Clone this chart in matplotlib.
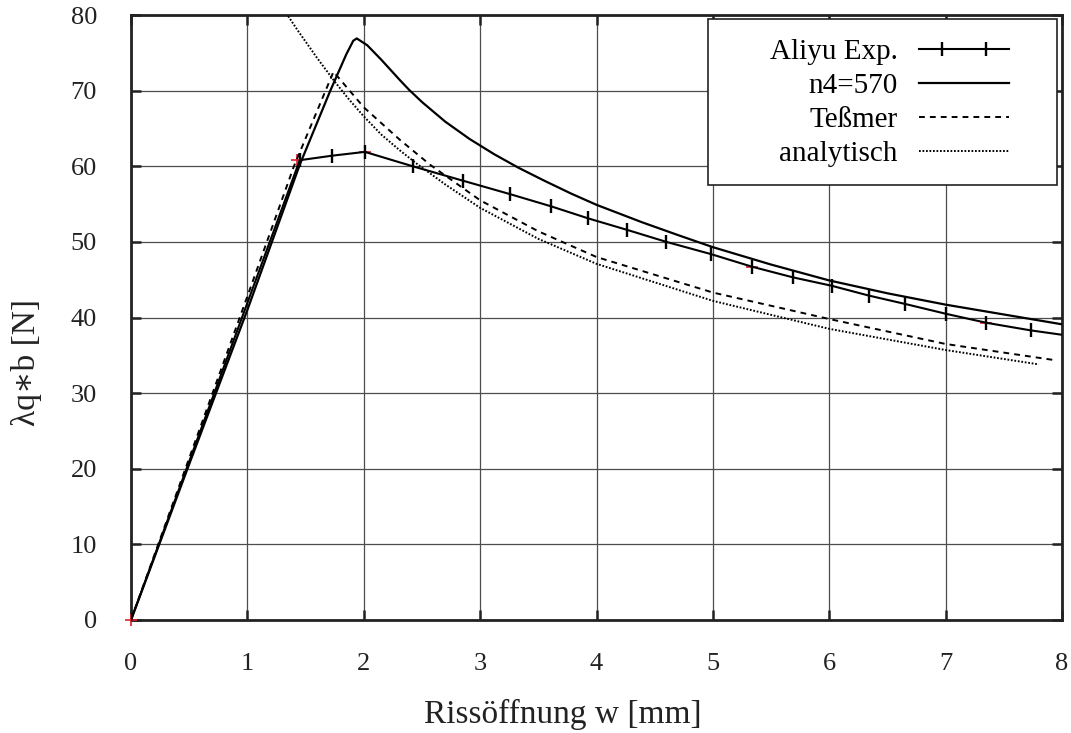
import matplotlib
matplotlib.use("Agg")
import numpy as np
import matplotlib.pyplot as plt
from matplotlib.legend_handler import HandlerLine2DCompound
from matplotlib.patches import Rectangle

plt.rcParams['font.family'] = ['Liberation Serif', 'DejaVu Serif']

# Aliyu Exp. (experiment)
aliyu_w = [0.0, 1.45, 1.73, 2.01, 2.42, 2.85, 3.26, 3.61, 3.93, 4.26, 4.60,
           4.98, 5.34, 5.69, 6.02, 6.34, 6.65, 7.00, 7.35, 7.73, 8.10]
aliyu_f = [0.0, 60.8, 61.4, 61.9, 60.0, 58.1, 56.3, 54.7, 53.1, 51.6, 50.0,
           48.4, 46.7, 45.3, 44.2, 42.9, 41.8, 40.5, 39.3, 38.3, 37.5]
# red highlighted experimental points
red_w = [0.0, 1.43, 2.01, 5.34, 7.35]
red_f = [0.0, 60.8, 61.9, 46.7, 39.3]

# n4=570 (simulation)
n4_w = [0.0, 0.5, 1.0, 1.45, 1.71, 1.85, 1.91, 1.94, 1.97, 2.03, 2.15, 2.31,
        2.39, 2.50, 2.70, 2.91, 3.12, 3.33, 3.55, 3.78, 4.00, 4.39, 4.70,
        5.00, 5.50, 6.00, 6.50, 7.00, 7.50, 8.00]
n4_f = [0.0, 20.6, 41.0, 60.2, 69.9, 74.8, 76.6, 76.9, 76.6, 76.0, 74.1, 71.4,
        70.1, 68.5, 65.9, 63.6, 61.6, 59.8, 58.1, 56.4, 54.9, 52.6, 50.9,
        49.3, 47.0, 44.9, 43.2, 41.7, 40.4, 39.1]

# Teßmer
tess_w = [0.0, 1.0, 1.40, 1.74, 2.00, 2.31, 2.57, 3.00, 3.50, 4.00, 5.00,
          6.00, 7.00, 7.92]
tess_f = [0.0, 42.8, 60.0, 72.5, 67.8, 63.5, 60.2, 55.5, 51.4, 48.0, 43.3,
          39.8, 36.5, 34.4]

# analytisch
ana_w = [1.30, 1.44, 1.60, 1.75, 1.87, 2.00, 2.15, 2.31, 2.45, 2.70, 3.00,
         3.50, 4.00, 5.00, 6.00, 7.00, 7.80]
ana_f = [81.0, 77.8, 74.3, 71.2, 68.9, 66.6, 64.2, 62.1, 60.4, 57.6, 54.5,
         50.4, 47.1, 42.2, 38.5, 35.7, 33.8]

xticks = list(range(0, 9))
yticks = list(range(0, 81, 10))


class FullLineHandler(HandlerLine2DCompound):
    """Legend line spanning the full handle, markers set inward."""
    def __init__(self, mpad=0.8, **kw):
        super().__init__(**kw)
        self._mpad = mpad

    def get_xdata(self, legend, xdescent, ydescent, width, height, fontsize):
        xdata = np.array([-xdescent, -xdescent + width])
        pad = self._mpad * fontsize
        xm = np.array([-xdescent + pad, -xdescent + width - pad])
        return xdata, xm


fig = plt.figure(figsize=(10.71, 7.33), dpi=100)
ax = fig.add_axes([131/1071, 1 - 620/733, 931/1071, 605/733])

ax.plot(red_w, red_f, linestyle='none', marker='+', color='#e0202a',
        markersize=9, markeredgewidth=1.2, zorder=3, clip_on=False)
l1, = ax.plot(aliyu_w, aliyu_f, color='black', lw=1.5, marker='|',
              markersize=10, markeredgewidth=1.7, label='Aliyu Exp.', zorder=4)
l2, = ax.plot(n4_w, n4_f, color='black', lw=1.6, label='n4=570', zorder=4)
l3, = ax.plot(tess_w, tess_f, color='black', lw=1.4, linestyle=(0, (3, 2.6)),
              label='Teßmer', zorder=4)
l4, = ax.plot(ana_w, ana_f, color='black', lw=1.4, linestyle=(0, (0.9, 0.9)),
              label='analytisch', zorder=4)

ax.set_xlim(0, 8)
ax.set_ylim(0, 80)
ax.set_xticks(xticks)
ax.set_yticks(yticks)
ax.grid(True, color='0.3', lw=0.9)
ax.set_axisbelow(True)

for s in ax.spines.values():
    s.set_linewidth(2.0)
    s.set_color('#222222')

ax.tick_params(direction='in', length=7, width=1.8, top=True, right=True,
               labelsize=19, colors='#222222')
ax.tick_params(axis='y', pad=24.5)
ax.tick_params(axis='x', pad=24)

ax.set_xlabel('Rissöffnung w [mm]', fontsize=24, color='#222222')
ax.xaxis.set_label_coords((563 - 131) / 931, (620 - 723) / 605)
ax.xaxis.label.set_verticalalignment('baseline')

ax.set_ylabel('λq∗b [N]', fontsize=24, color='#222222')
ax.yaxis.set_label_coords((27 - 131) / 931, (620 - 362) / 605)
ax.yaxis.label.set_verticalalignment('center')

# legend frame
frame = Rectangle(((708 - 131) / 931, (620 - 185) / 605), 349 / 931, 166 / 605,
                  transform=ax.transAxes, facecolor='white', edgecolor='#222222',
                  lw=1.2, zorder=6)
ax.add_patch(frame)

hm = {l1: FullLineHandler(mpad=0.8)}
for ln in (l2, l3, l4):
    hm[ln] = FullLineHandler(mpad=0.0)

leg = ax.legend(handles=[l1, l2, l3, l4], loc='upper right',
                bbox_to_anchor=((1009 - 131) / 931, (620 - 39) / 605),
                borderaxespad=0, borderpad=0, markerfirst=False, frameon=False,
                fontsize=21, handlelength=3.1, handletextpad=0.72,
                labelspacing=0.26, numpoints=2, handler_map=hm)
leg.set_zorder(7)

fig.savefig('out.png', dpi=100)
